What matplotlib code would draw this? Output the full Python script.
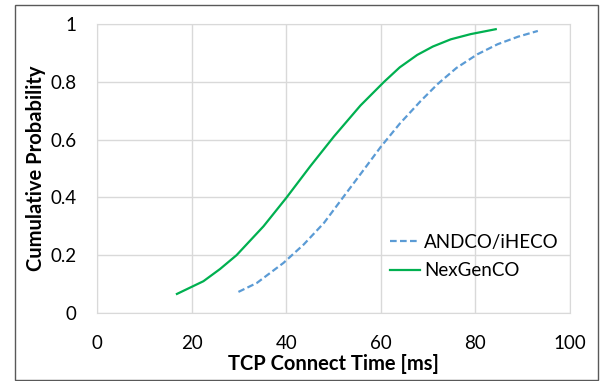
import matplotlib
matplotlib.use('Agg')
import matplotlib.pyplot as plt
from matplotlib.patches import Rectangle

plt.rcParams['font.family'] = ['Lato', 'DejaVu Sans']

# CDF of TCP connect time
andco_x = [29.9, 33.8, 39.4, 43.7, 48.0, 52.2, 56, 60, 64, 68.4, 72, 76, 80.4, 84.7, 89, 93.2]
andco_y = [0.073, 0.104, 0.173, 0.237, 0.312, 0.404, 0.487, 0.575, 0.655, 0.733, 0.792, 0.848, 0.895, 0.93, 0.956, 0.976]

nexgen_x = [16.9, 22.5, 26, 29.5, 35.2, 40.0, 45.1, 50.1, 55.7, 60.7, 64, 67.7, 71, 74.8, 79, 84.3]
nexgen_y = [0.066, 0.11, 0.152, 0.20, 0.30, 0.398, 0.508, 0.611, 0.718, 0.80, 0.85, 0.893, 0.922, 0.947, 0.965, 0.982]

xticks = [0, 20, 40, 60, 80, 100]
yticks = [0, 0.2, 0.4, 0.6, 0.8, 1]
yticklabels = ['0', '0.2', '0.4', '0.6', '0.8', '1']

fig = plt.figure(figsize=(6.02, 3.81), dpi=100)
ax = fig.add_axes([97 / 602, 68 / 381, 473 / 602, 289 / 381])

ax.plot(andco_x, andco_y, color='#5b9bd5', lw=1.6, dashes=(3, 1.5), label='ANDCO/iHECO')
ax.plot(nexgen_x, nexgen_y, color='#00b050', lw=1.6, label='NexGenCO')

ax.set_xlim(0, 100)
ax.set_ylim(0, 1)
ax.set_xticks(xticks)
ax.set_yticks(yticks)
ax.set_yticklabels(yticklabels)
ax.tick_params(length=0, labelsize=13.5, colors='#000000')
ax.tick_params(axis='y', pad=15)
ax.tick_params(axis='x', pad=16)
ax.grid(True, color='#d9d9d9', lw=1)
for s in ax.spines.values():
    s.set_color('#d9d9d9')

ax.set_xlabel('TCP Connect Time [ms]', fontsize=14.5, fontweight='bold', labelpad=1.5)
ax.set_ylabel('Cumulative Probability', fontsize=14.5, fontweight='bold', labelpad=3)

ax.legend(loc='center left', bbox_to_anchor=((390 - 97) / 473, (313 - 256.5) / 289),
          frameon=False, fontsize=13.5, borderpad=0, borderaxespad=0,
          handlelength=1.6, handletextpad=0.2, labelspacing=0.6)

# border round the whole chart
fig.patches.append(Rectangle((15 / 602, 1 / 381), 583 / 602, 375 / 381,
                             transform=fig.transFigure, fill=False,
                             edgecolor='#595959', lw=1))

fig.savefig('out.png', dpi=100)
